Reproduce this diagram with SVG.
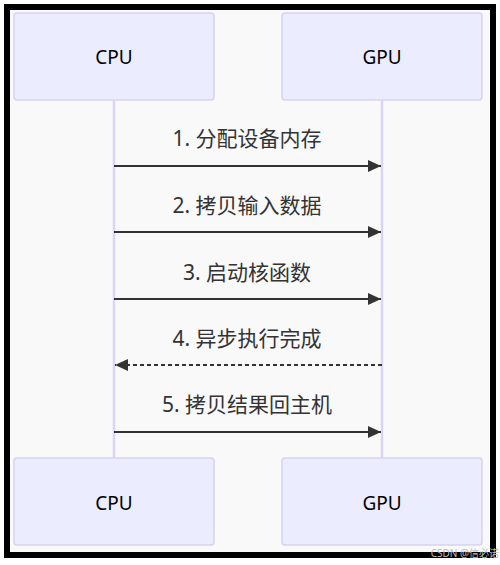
<svg xmlns="http://www.w3.org/2000/svg" width="500" height="565" viewBox="0 0 500 565">
<defs>
<style>
.actor{fill:#ECECFF;stroke:#d9d1f5;stroke-width:1.5}
.atext{font-family:"Noto Sans","Open Sans",sans-serif;font-size:19px;fill:#000;text-anchor:middle}
.life{stroke:#dcd3f6;stroke-width:2.5}
.msg{stroke:#333;stroke-width:2;fill:none}
.dash{stroke-dasharray:4,3}
.mtext{font-family:"Noto Sans","Noto Sans CJK SC",sans-serif;font-size:21px;fill:#333;text-anchor:middle}
</style>
<marker id="arrow" viewBox="0 0 13 12" refX="13" refY="6" markerWidth="13" markerHeight="12" markerUnits="userSpaceOnUse" orient="auto">
<path d="M0,0 L13,6 L0,12 Z" fill="#333"/>
</marker>
</defs>
<rect x="0" y="0" width="500" height="565" fill="#fff"/>
<rect x="7" y="7" width="486" height="548" fill="#f9f9f9" stroke="#000" stroke-width="6"/>
<g id="lifelines">
<line class="life" x1="114" y1="100" x2="114" y2="458"/>
<line class="life" x1="382" y1="100" x2="382" y2="458"/>
</g>
<g id="cpu-top"><rect class="actor" x="14" y="13" width="200" height="87" rx="3"/><text class="atext" x="114" y="64">CPU</text></g>
<g id="gpu-top"><rect class="actor" x="282" y="13" width="200" height="87" rx="3"/><text class="atext" x="382" y="64">GPU</text></g>
<g id="cpu-bottom"><rect class="actor" x="14" y="458" width="200" height="87" rx="3"/><text class="atext" x="114" y="510">CPU</text></g>
<g id="gpu-bottom"><rect class="actor" x="282" y="458" width="200" height="87" rx="3"/><text class="atext" x="382" y="510">GPU</text></g>
<g id="connectors">
<line class="msg" x1="114" y1="166" x2="381" y2="166" marker-end="url(#arrow)"/>
<line class="msg" x1="114" y1="232" x2="381" y2="232" marker-end="url(#arrow)"/>
<line class="msg" x1="114" y1="299" x2="381" y2="299" marker-end="url(#arrow)"/>
<line class="msg dash" x1="382" y1="365" x2="115" y2="365" marker-end="url(#arrow)"/>
<line class="msg" x1="114" y1="432" x2="381" y2="432" marker-end="url(#arrow)"/>
</g>
<g id="labels">
<text class="mtext" x="247" y="146">1. 分配设备内存</text>
<text class="mtext" x="247" y="213">2. 拷贝输入数据</text>
<text class="mtext" x="247" y="280">3. 启动核函数</text>
<text class="mtext" x="247" y="346">4. 异步执行完成</text>
<text class="mtext" x="247" y="412">5. 拷贝结果回主机</text>
</g>
<text x="499" y="557" font-family="'Noto Sans','Noto Sans CJK SC',sans-serif" font-size="10" fill="#bbb" text-anchor="end">CSDN @信必诺</text>
</svg>
